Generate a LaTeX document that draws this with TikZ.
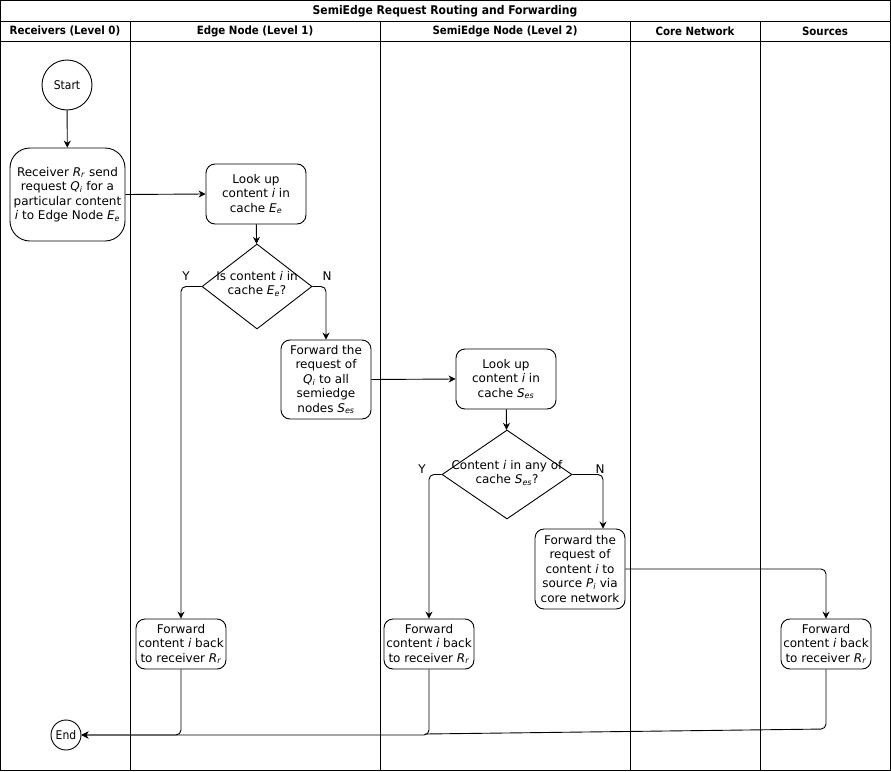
\documentclass[tikz,border=0pt]{standalone}
\usepackage{fontspec}
\setmainfont{DejaVu Sans}
\newfontfamily\condfont{DejaVu Sans Condensed}
\usetikzlibrary{shapes.geometric,arrows.meta}
\newcommand{\vr}[2]{\textit{#1}\textsubscript{\textit{#2}}}
\begin{document}
\begin{tikzpicture}[x=1pt,y=-1pt,
  line width=0.9pt,
  body/.style={font=\fontsize{12}{14.5}\selectfont},
  procbox/.style={draw,rounded corners=9pt,align=center,inner sep=0pt,body},
  decision/.style={draw,diamond,inner sep=0pt},
  terminal/.style={draw,circle,inner sep=0pt,font=\condfont\fontsize{12}{14}\selectfont},
  flow/.style={-{Stealth[length=7pt,width=7pt]},rounded corners=5pt},
  plainflow/.style={rounded corners=5pt},
  yn/.style={font=\fontsize{12}{14}\selectfont},
  lanehead/.style={font=\condfont\bfseries\fontsize{11.4}{13}\selectfont},
]
\useasboundingbox (0,0) rectangle (891,771);

% pool frame, title bar and lane headers
\draw (0.5,0.5) rectangle (890.5,770.5);
\draw (0.5,21) -- (890.5,21);
\draw (0.5,41) -- (890.5,41);
\foreach \lx in {130,380,630,760} \draw (\lx,21) -- (\lx,770.5);
\node[font=\condfont\bfseries\fontsize{12}{14}\selectfont] (title) at (445,11) {SemiEdge Request Routing and Forwarding};
\node[lanehead] (h0) at (65,31) {Receivers (Level 0)};
\node[lanehead] (h1) at (255,31) {Edge Node (Level 1)};
\node[lanehead] (h2) at (505,31) {SemiEdge Node (Level 2)};
\node[lanehead] (h3) at (695,31) {Core Network};
\node[lanehead] (h4) at (825,31) {Sources};

% steps
\node[terminal,minimum size=50pt] (start) at (67,85) {Start};
\node[procbox,rounded corners=20pt,minimum width=115pt,minimum height=93pt] (recv) at (67.5,194.5)
  {Receiver \vr{R}{r} send\\request \vr{Q}{i} for a\\particular content\\\textit{i} to Edge Node \vr{E}{e}};
\node[procbox,minimum width=100pt,minimum height=60pt] (lk1) at (256,194)
  {Look up\\content \textit{i} in\\cache \vr{E}{e}};
\node[decision,minimum width=110pt,minimum height=85pt] (d1) at (257,286.5) {};
\node[body,align=center] (d1t) at (257,284) {Is content \textit{i} in\\cache \vr{E}{e}?};
\node[procbox,minimum width=90pt,minimum height=79pt] (fwq) at (326,379.5)
  {Forward the\\request of\\\vr{Q}{i} to all\\semiedge\\nodes \vr{S}{es}};
\node[procbox,minimum width=100pt,minimum height=60pt] (lk2) at (506,379)
  {Look up\\content \textit{i} in\\cache \vr{S}{es}};
\node[decision,minimum width=130pt,minimum height=89pt] (d2) at (507,474.5) {};
\node[body,align=center] (d2t) at (507,473) {Content \textit{i} in any of\\cache \vr{S}{es}?};
\node[procbox,minimum width=90pt,minimum height=80pt] (fws) at (580,569)
  {Forward the\\request of\\content \textit{i} to\\source \vr{P}{i} via\\core network};
\node[procbox,minimum width=90pt,minimum height=50pt] (fb1) at (181,644)
  {Forward\\content \textit{i} back\\to receiver \vr{R}{r}};
\node[procbox,minimum width=90pt,minimum height=50pt] (fb2) at (429,644)
  {Forward\\content \textit{i} back\\to receiver \vr{R}{r}};
\node[procbox,minimum width=90pt,minimum height=50pt] (fb3) at (826,644)
  {Forward\\content \textit{i} back\\to receiver \vr{R}{r}};
\node[terminal,minimum size=30pt] (end) at (66,735) {End};

% connectors
\draw[flow] (start) -- (recv);
\draw[flow] (recv.east) -- (lk1.west);
\draw[flow] (lk1) -- (d1);
\draw[flow] (d1.west) -| (fb1.north);
\draw[flow] (d1.east) -| (fwq.north);
\draw[flow] (fwq.east) -- (lk2.west);
\draw[flow] (lk2) -- (d2);
\draw[flow] (d2.west) -| (fb2.north);
\draw[flow] (d2.east) -| ([xshift=23pt]fws.north);
\draw[flow] (fws.east) -| (fb3.north);
\draw[flow] (fb1.south) |- (end.east);
\draw[flow] (fb2.south) |- (end.east);
\coordinate (bend3) at (826,729);
\coordinate (join3) at (425,734);
\draw[plainflow] (fb3.south) -- (bend3) -- (join3);

% branch labels
\node[yn] (y1) at (186,276) {Y};
\node[yn] (n1) at (327,276) {N};
\node[yn] (y2) at (422,469) {Y};
\node[yn] (n2) at (600,469) {N};
\end{tikzpicture}
\end{document}
